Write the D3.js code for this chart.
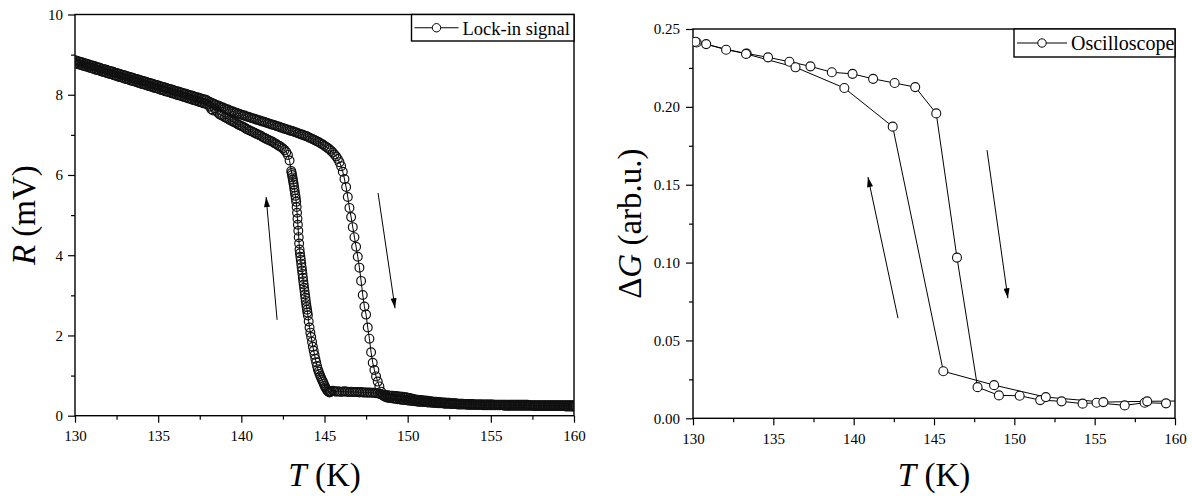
<!DOCTYPE html>
<html>
<head>
<meta charset="utf-8">
<script src="https://cdn.jsdelivr.net/npm/d3@7/dist/d3.min.js"></script>
<style>
  body { margin: 0; background: #fff; }
  svg text { font-family: "Liberation Serif", "Times New Roman", serif; fill: #000; }
</style>
</head>
<body>
<svg id="chart" width="1192" height="496"></svg>
<script>
// ---------- axis ticks ----------
const tempTicks = [130, 135, 140, 145, 150, 155, 160];
const tempMinorTicks = [132.5, 137.5, 142.5, 147.5, 152.5, 157.5];
const rTicks = [0, 2, 4, 6, 8, 10];
const rMinorTicks = [1, 3, 5, 7, 9];
const gTicks = [0, 0.05, 0.10, 0.15, 0.20, 0.25];
const gMinorTicks = [0.025, 0.075, 0.125, 0.175, 0.225];

// ---------- lock-in signal, warming sweep (T in K, R in mV) ----------
const lockInWarmT = [
130.0,130.1,130.2,130.3,130.4,130.5,130.6,130.7,130.8,130.9,
131.0,131.1,131.2,131.3,131.4,131.5,131.6,131.7,131.8,131.9,
132.0,132.1,132.2,132.3,132.4,132.5,132.6,132.7,132.8,132.9,
133.0,133.1,133.2,133.3,133.4,133.5,133.6,133.7,133.8,133.9,
134.0,134.1,134.2,134.3,134.4,134.5,134.6,134.7,134.8,134.9,
135.0,135.1,135.2,135.3,135.4,135.5,135.6,135.7,135.8,135.9,
136.0,136.1,136.2,136.3,136.4,136.5,136.6,136.7,136.8,136.9,
137.0,137.1,137.2,137.3,137.4,137.5,137.6,137.7,137.8,137.9,
138.0,138.1,138.2,138.3,138.4,138.5,138.6,138.7,138.8,138.9,
139.0,139.1,139.2,139.3,139.4,139.5,139.6,139.7,139.8,139.9,
140.0,140.1,140.2,140.3,140.4,140.5,140.6,140.7,140.8,140.9,
141.0,141.1,141.2,141.3,141.4,141.5,141.6,141.7,141.8,141.9,
142.0,142.1,142.2,142.3,142.4,142.5,142.6,142.7,142.8,142.9,
143.0,143.1,143.2,143.3,143.4,143.5,143.6,143.7,143.8,143.9,
144.0,144.1,144.2,144.3,144.4,144.5,144.6,144.7,144.8,144.9,
145.0,145.1,145.2,145.3,145.4,145.5,145.6,145.7,145.8,145.9,
146.0,146.1,146.2,146.3,146.4,146.5,146.6,146.7,146.8,146.9,
147.0,147.1,147.2,147.3,147.4,147.5,147.6,147.7,147.8,147.9,
148.0,148.1,148.2,148.3,148.4,148.5,148.6,148.7,148.8,148.9,
149.0,149.1,149.2,149.3,149.4,149.5,149.6,149.7,149.8,149.9,
150.0,150.1,150.2,150.3,150.4,150.5,150.6,150.7,150.8,150.9,
151.0,151.1,151.2,151.3,151.4,151.5,151.6,151.7,151.8,151.9,
152.0,152.1,152.2,152.3,152.4,152.5,152.6,152.7,152.8,152.9,
153.0,153.1,153.2,153.3,153.4,153.5,153.6,153.7,153.8,153.9,
154.0,154.1,154.2,154.3,154.4,154.5,154.6,154.7,154.8,154.9,
155.0,155.1,155.2,155.3,155.4,155.5,155.6,155.7,155.8,155.9,
156.0,156.1,156.2,156.3,156.4,156.5,156.6,156.7,156.8,156.9,
157.0,157.1,157.2,157.3,157.4,157.5,157.6,157.7,157.8,157.9,
158.0,158.1,158.2,158.3,158.4,158.5,158.6,158.7,158.8,158.9,
159.0,159.1,159.2,159.3,159.4,159.5,159.6,159.7,159.8,159.9,
160.0];
const lockInWarmR = [
8.86,8.85,8.83,8.82,8.81,8.80,8.78,8.77,8.76,8.74,
8.73,8.72,8.71,8.69,8.68,8.67,8.65,8.64,8.63,8.62,
8.60,8.59,8.58,8.57,8.55,8.54,8.53,8.52,8.50,8.49,
8.48,8.47,8.45,8.44,8.43,8.42,8.40,8.39,8.38,8.37,
8.35,8.34,8.33,8.32,8.30,8.29,8.28,8.27,8.25,8.24,
8.23,8.22,8.20,8.19,8.18,8.17,8.15,8.14,8.13,8.12,
8.10,8.09,8.08,8.07,8.05,8.04,8.03,8.02,8.00,7.99,
7.98,7.97,7.95,7.94,7.93,7.92,7.90,7.89,7.88,7.87,
7.84,7.82,7.80,7.78,7.76,7.74,7.73,7.71,7.69,7.68,
7.66,7.64,7.63,7.61,7.59,7.58,7.56,7.55,7.53,7.52,
7.50,7.49,7.48,7.46,7.45,7.44,7.42,7.41,7.40,7.38,
7.37,7.36,7.34,7.33,7.32,7.30,7.29,7.28,7.26,7.25,
7.24,7.22,7.21,7.20,7.18,7.17,7.15,7.14,7.13,7.11,
7.10,7.09,7.07,7.06,7.04,7.03,7.01,7.00,6.98,6.97,
6.95,6.93,6.91,6.89,6.87,6.85,6.83,6.81,6.78,6.76,
6.73,6.70,6.67,6.64,6.60,6.56,6.51,6.46,6.40,6.32,
6.22,6.08,5.90,5.70,5.45,5.18,4.95,4.70,4.45,4.21,
3.96,3.69,3.36,3.01,2.72,2.52,2.20,1.92,1.58,1.32,
1.14,0.98,0.85,0.73,0.60,0.51,0.48,0.46,0.45,0.44,
0.44,0.43,0.43,0.42,0.41,0.41,0.40,0.40,0.39,0.39,
0.38,0.38,0.37,0.37,0.36,0.36,0.35,0.35,0.35,0.34,
0.34,0.34,0.33,0.33,0.33,0.32,0.32,0.32,0.31,0.31,
0.31,0.31,0.30,0.30,0.30,0.30,0.29,0.29,0.29,0.29,
0.28,0.28,0.28,0.28,0.28,0.28,0.27,0.27,0.27,0.27,
0.27,0.27,0.27,0.27,0.27,0.26,0.26,0.26,0.26,0.26,
0.26,0.26,0.26,0.26,0.26,0.26,0.26,0.26,0.25,0.25,
0.25,0.25,0.25,0.25,0.25,0.25,0.25,0.25,0.25,0.25,
0.25,0.25,0.25,0.25,0.25,0.25,0.24,0.24,0.24,0.24,
0.24,0.24,0.24,0.24,0.24,0.24,0.24,0.24,0.24,0.24,
0.24,0.24,0.24,0.24,0.24,0.23,0.23,0.23,0.23,0.23,
0.23];

// ---------- lock-in signal, cooling sweep ----------
const lockInCoolT = [
130.0,130.1,130.2,130.3,130.4,130.5,130.6,130.7,130.8,130.9,
131.0,131.1,131.2,131.3,131.4,131.5,131.6,131.7,131.8,131.9,
132.0,132.1,132.2,132.3,132.4,132.5,132.6,132.7,132.8,132.9,
133.0,133.1,133.2,133.3,133.4,133.5,133.6,133.7,133.8,133.9,
134.0,134.1,134.2,134.3,134.4,134.5,134.6,134.7,134.8,134.9,
135.0,135.1,135.2,135.3,135.4,135.5,135.6,135.7,135.8,135.9,
136.0,136.1,136.2,136.3,136.4,136.5,136.6,136.7,136.8,136.9,
137.0,137.1,137.2,137.3,137.4,137.5,137.6,137.7,137.8,137.9,
138.0,138.1,138.2,138.3,138.4,138.5,138.6,138.7,138.8,138.9,
139.0,139.1,139.2,139.3,139.4,139.5,139.6,139.7,139.8,139.9,
140.0,140.1,140.2,140.3,140.4,140.5,140.6,140.7,140.8,140.9,
141.0,141.1,141.2,141.3,141.4,141.5,141.6,141.7,141.8,141.9,
142.0,142.1,142.2,142.3,142.4,142.5,142.6,142.7,142.8,142.9,
143.000,143.025,143.050,143.075,143.100,143.125,143.150,143.175,143.200,143.225,
143.250,143.275,143.300,143.325,143.350,143.375,143.400,143.425,143.450,143.475,
143.500,143.525,143.550,143.575,143.600,143.625,143.650,143.675,143.700,143.725,
143.750,143.775,143.800,143.825,143.850,143.875,143.900,143.925,143.950,143.975,
144.00,144.05,144.10,144.15,144.20,144.25,144.30,144.35,144.40,144.45,
144.50,144.55,144.60,144.65,144.70,144.75,144.80,144.85,144.90,144.95,
145.00,145.05,145.10,145.15,145.20,145.25,145.30,145.35,
145.4,145.5,145.6,145.7,145.8,145.9,
146.0,146.1,146.2,146.3,146.4,146.5,146.6,146.7,146.8,146.9,
147.0,147.1,147.2,147.3,147.4,147.5,147.6,147.7,147.8,147.9,
148.0,148.1,148.2,148.3,148.4,148.5,148.6,148.7,148.8,148.9,
149.0,149.1,149.2,149.3,149.4,149.5,149.6,149.7,149.8,149.9,
150.0,150.1,150.2,150.3,150.4,150.5,150.6,150.7,150.8,150.9,
151.0,151.1,151.2,151.3,151.4,151.5,151.6,151.7,151.8,151.9,
152.0,152.1,152.2,152.3,152.4,152.5,152.6,152.7,152.8,152.9,
153.0,153.1,153.2,153.3,153.4,153.5,153.6,153.7,153.8,153.9,
154.0,154.1,154.2,154.3,154.4,154.5,154.6,154.7,154.8,154.9,
155.0,155.1,155.2,155.3,155.4,155.5,155.6,155.7,155.8,155.9,
156.0,156.1,156.2,156.3,156.4,156.5,156.6,156.7,156.8,156.9,
157.0,157.1,157.2,157.3,157.4,157.5,157.6,157.7,157.8,157.9,
158.0,158.1,158.2,158.3,158.4,158.5,158.6,158.7,158.8,158.9,
159.0,159.1,159.2,159.3,159.4,159.5,159.6,159.7,159.8,159.9,
160.0];
const lockInCoolR = [
8.79,8.78,8.76,8.75,8.74,8.72,8.71,8.70,8.69,8.67,
8.66,8.65,8.63,8.62,8.61,8.60,8.58,8.57,8.56,8.54,
8.53,8.52,8.51,8.49,8.48,8.47,8.45,8.44,8.43,8.42,
8.40,8.39,8.38,8.36,8.35,8.34,8.33,8.31,8.30,8.29,
8.27,8.26,8.25,8.24,8.22,8.21,8.20,8.18,8.17,8.16,
8.15,8.13,8.12,8.11,8.09,8.08,8.07,8.06,8.04,8.03,
8.02,8.00,7.99,7.98,7.97,7.95,7.94,7.93,7.91,7.90,
7.89,7.87,7.86,7.85,7.83,7.82,7.81,7.79,7.78,7.77,
7.75,7.70,7.64,7.61,7.66,7.60,7.55,7.51,7.49,7.47,
7.44,7.42,7.40,7.37,7.35,7.33,7.31,7.29,7.26,7.24,
7.22,7.20,7.18,7.15,7.13,7.11,7.09,7.07,7.05,7.03,
7.01,6.99,6.97,6.94,6.92,6.90,6.88,6.86,6.84,6.82,
6.79,6.77,6.74,6.72,6.69,6.66,6.62,6.57,6.50,6.36,
6.10,6.05,6.00,5.94,5.88,5.82,5.76,5.69,5.62,5.55,
5.48,5.41,5.33,5.20,5.06,4.91,4.76,4.61,4.45,4.29,
4.14,4.05,3.96,3.88,3.79,3.70,3.62,3.53,3.44,3.35,
3.27,3.19,3.11,3.02,2.94,2.86,2.78,2.71,2.64,2.57,
2.50,2.35,2.20,2.07,1.96,1.84,1.72,1.62,1.52,1.42,
1.33,1.24,1.16,1.10,1.04,0.99,0.94,0.89,0.85,0.80,
0.75,0.71,0.67,0.64,0.61,0.60,0.58,0.59,
0.61,0.62,0.61,0.60,0.61,0.60,
0.60,0.60,0.61,0.60,0.60,0.59,0.60,0.59,0.59,0.59,
0.59,0.58,0.59,0.58,0.58,0.58,0.57,0.58,0.57,0.57,
0.57,0.56,0.56,0.55,0.53,0.52,0.52,0.51,0.51,0.50,
0.50,0.50,0.49,0.49,0.48,0.48,0.47,0.47,0.46,0.46,
0.45,0.44,0.43,0.42,0.41,0.40,0.40,0.39,0.39,0.38,
0.38,0.37,0.37,0.36,0.36,0.35,0.35,0.35,0.34,0.34,
0.33,0.33,0.33,0.32,0.32,0.32,0.31,0.31,0.31,0.31,
0.30,0.30,0.30,0.30,0.29,0.29,0.29,0.29,0.29,0.29,
0.28,0.28,0.28,0.28,0.28,0.28,0.28,0.28,0.28,0.28,
0.28,0.28,0.27,0.27,0.27,0.27,0.27,0.27,0.27,0.27,
0.27,0.27,0.27,0.27,0.27,0.27,0.27,0.27,0.27,0.27,
0.27,0.27,0.27,0.26,0.26,0.26,0.26,0.26,0.26,0.26,
0.26,0.26,0.26,0.26,0.26,0.26,0.26,0.26,0.26,0.26,
0.26,0.26,0.26,0.26,0.26,0.26,0.26,0.26,0.26,0.26,
0.26];

// ---------- oscilloscope, warming sweep (T in K, ΔG in arb.u.) ----------
const oscWarmT = [130.23,130.82,132.06,133.34,134.67,136.00,137.31,138.64,139.93,141.21,142.55,143.83,145.14,146.43,147.71,149.04,150.33,151.61,152.94,154.25,155.12,156.87,158.11,159.44];
const oscWarmG = [0.2413,0.2403,0.2367,0.2343,0.2318,0.2290,0.2260,0.2222,0.2212,0.2180,0.2153,0.2127,0.1958,0.1032,0.0200,0.0147,0.0145,0.0117,0.0109,0.0094,0.0100,0.0083,0.0100,0.0096];

// ---------- oscilloscope, cooling sweep ----------
const oscCoolT = [160.90,158.27,155.54,151.96,148.74,145.58,142.43,139.42,136.38,133.30,130.15];
const oscCoolG = [0.0112,0.0109,0.0104,0.0136,0.0213,0.0302,0.1873,0.2121,0.2254,0.2340,0.2418];

// sweep-direction arrows, in data units
const lockInArrows = [
  { from: [142.15, 2.39], to: [141.49, 5.45] },
  { from: [148.22, 5.55], to: [149.24, 2.68] }
];
const oscArrows = [
  { from: [142.76, 0.0643], to: [140.89, 0.1549] },
  { from: [148.30, 0.1722], to: [149.60, 0.0771] }
];

const svg = d3.select('#chart');
const defs = svg.append('defs');
defs.append('marker')
  .attr('id', 'head')
  .attr('viewBox', '0 0 10 6')
  .attr('markerUnits', 'userSpaceOnUse')
  .attr('markerWidth', 11).attr('markerHeight', 6)
  .attr('refX', 10).attr('refY', 3)
  .attr('orient', 'auto')
  .append('path').attr('d', 'M0,0L10,3L0,6Z').attr('fill', '#000');

const zip = (xs, ys) => xs.map((t, i) => [t, ys[i]]);

function drawPanel(cfg) {
  const x = d3.scaleLinear().domain([130, 160]).range([cfg.left, cfg.right]);
  const y = d3.scaleLinear().domain(cfg.yDomain).range([cfg.bottom, cfg.top]);
  const g = svg.append('g');

  defs.append('clipPath').attr('id', cfg.id + '-clip')
    .append('rect')
    .attr('x', cfg.left).attr('y', cfg.top)
    .attr('width', cfg.right - cfg.left).attr('height', cfg.bottom - cfg.top);

  // bottom axis (major + minor ticks)
  const xAxis = g.append('g').attr('transform', `translate(0,${cfg.bottom})`)
    .call(d3.axisBottom(x).tickValues(tempTicks).tickSize(7).tickSizeOuter(0).tickPadding(8).tickFormat(d3.format('d')));
  g.append('g').attr('transform', `translate(0,${cfg.bottom})`)
    .call(d3.axisBottom(x).tickValues(tempMinorTicks).tickSize(4).tickFormat(''));

  // left axis (major + minor ticks)
  const yAxis = g.append('g').attr('transform', `translate(${cfg.left},0)`)
    .call(d3.axisLeft(y).tickValues(cfg.yTicks).tickSize(7).tickSizeOuter(0).tickPadding(cfg.yPad).tickFormat(cfg.yFormat));
  g.append('g').attr('transform', `translate(${cfg.left},0)`)
    .call(d3.axisLeft(y).tickValues(cfg.yMinor).tickSize(4).tickFormat(''));

  g.selectAll('.domain').remove();
  g.selectAll('.tick line').attr('stroke', '#000').attr('stroke-width', 1.2);
  [xAxis, yAxis].forEach(a => a.attr('font-family', null).attr('font-size', null));
  g.selectAll('.tick text').style('font-size', '15px').attr('fill', '#111');

  // plot frame
  g.append('rect')
    .attr('x', cfg.left).attr('y', cfg.top)
    .attr('width', cfg.right - cfg.left).attr('height', cfg.bottom - cfg.top)
    .attr('fill', 'none').attr('stroke', '#000').attr('stroke-width', 1.4);

  // data
  const data = g.append('g').attr('clip-path', `url(#${cfg.id}-clip)`);
  const line = d3.line().x(d => x(d[0])).y(d => y(d[1]));
  cfg.series.forEach(pts => {
    data.append('path').datum(pts)
      .attr('d', line).attr('fill', 'none')
      .attr('stroke', '#000').attr('stroke-width', 1);
  });
  cfg.series.forEach(pts => {
    data.append('g').selectAll('circle').data(pts).join('circle')
      .attr('cx', d => x(d[0])).attr('cy', d => y(d[1]))
      .attr('r', cfg.markerR)
      .attr('fill', cfg.markerFill)
      .attr('stroke', '#111').attr('stroke-width', cfg.markerStroke);
  });

  // direction arrows
  cfg.arrows.forEach(a => {
    g.append('line')
      .attr('x1', x(a.from[0])).attr('y1', y(a.from[1]))
      .attr('x2', x(a.to[0])).attr('y2', y(a.to[1]))
      .attr('stroke', '#000').attr('stroke-width', 1)
      .attr('marker-end', 'url(#head)');
  });

  // legend
  const lg = g.append('g');
  lg.append('rect')
    .attr('x', cfg.legend.x).attr('y', cfg.top)
    .attr('width', cfg.right - cfg.legend.x).attr('height', cfg.legend.h)
    .attr('fill', '#fff').attr('stroke', '#000').attr('stroke-width', 1.4);
  const ly = cfg.top + cfg.legend.h / 2;
  lg.append('line')
    .attr('x1', cfg.legend.x + 3).attr('x2', cfg.legend.x + 3 + cfg.legend.lineLen)
    .attr('y1', ly).attr('y2', ly).attr('stroke', '#000').attr('stroke-width', 1);
  lg.append('circle')
    .attr('cx', cfg.legend.x + 3 + cfg.legend.lineLen / 2).attr('cy', ly)
    .attr('r', 4.2).attr('fill', '#fff').attr('stroke', '#000').attr('stroke-width', 1);
  lg.append('text')
    .attr('x', cfg.legend.x + 7 + cfg.legend.lineLen).attr('y', ly + 7)
    .style('font-size', cfg.legend.size + 'px')
    .text(cfg.legend.label);

  // axis titles
  const xt = g.append('text')
    .attr('x', (cfg.left + cfg.right) / 2).attr('y', 486)
    .attr('text-anchor', 'middle').style('font-size', '33px');
  xt.append('tspan').attr('font-style', 'italic').text('T');
  xt.append('tspan').text(' (K)');

  const yt = g.append('text')
    .attr('transform', `translate(${cfg.yTitleX},${(cfg.top + cfg.bottom) / 2}) rotate(-90)`)
    .attr('text-anchor', 'middle').style('font-size', '33px');
  cfg.yTitle.forEach(p => {
    yt.append('tspan').attr('font-style', p.italic ? 'italic' : 'normal').text(p.text);
  });
}

drawPanel({
  id: 'lockin',
  left: 75, right: 574, top: 14.5, bottom: 415.7,
  yDomain: [0, 10], yTicks: rTicks, yMinor: rMinorTicks, yPad: 5,
  yFormat: d3.format('d'),
  series: [zip(lockInWarmT, lockInWarmR), zip(lockInCoolT, lockInCoolR)],
  markerR: 4.4, markerFill: 'none', markerStroke: 1.2,
  arrows: lockInArrows,
  legend: { x: 411.5, h: 26.5, lineLen: 44, label: 'Lock-in signal', size: 18.5 },
  yTitleX: 35,
  yTitle: [{ text: 'R', italic: true }, { text: ' (mV)' }]
});

drawPanel({
  id: 'osc',
  left: 693, right: 1175, top: 29, bottom: 418.3,
  yDomain: [0, 0.25], yTicks: gTicks, yMinor: gMinorTicks, yPad: 6,
  yFormat: d3.format('.2f'),
  series: [zip(oscWarmT, oscWarmG), zip(oscCoolT, oscCoolG)],
  markerR: 4.5, markerFill: '#fff', markerStroke: 1.1,
  arrows: oscArrows,
  legend: { x: 1014, h: 28, lineLen: 50, label: 'Oscilloscope', size: 20 },
  yTitleX: 641,
  yTitle: [{ text: 'Δ' }, { text: 'G', italic: true }, { text: ' (arb.u.)' }]
});
</script>
</body>
</html>
